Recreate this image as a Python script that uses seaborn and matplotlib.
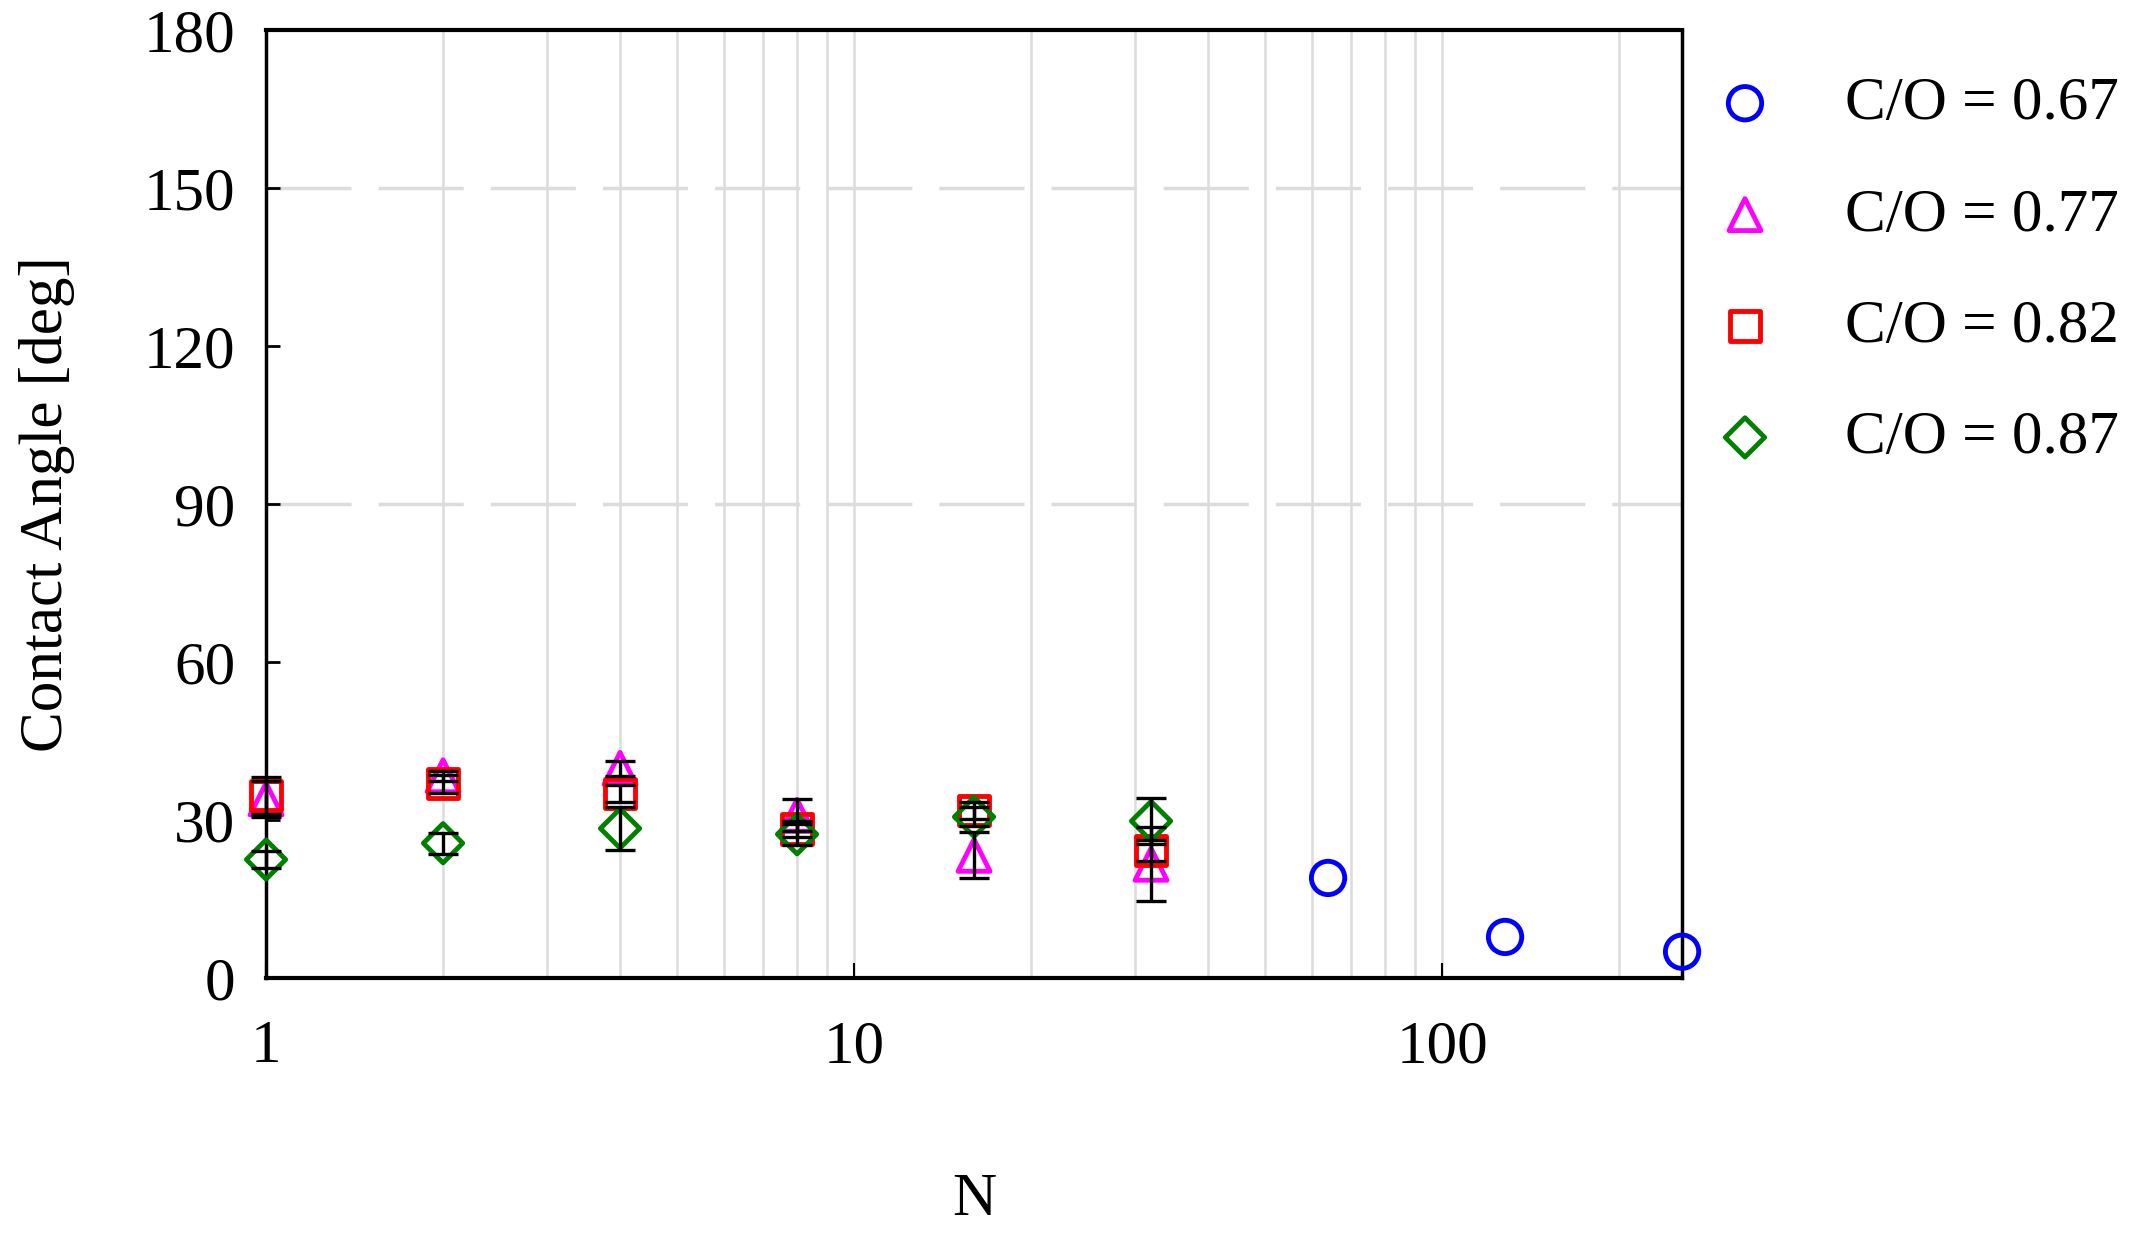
import numpy as np
import pandas as pd
import seaborn as sns
import matplotlib
matplotlib.use("Agg")
import matplotlib.pyplot as plt
from matplotlib.ticker import LogLocator, NullFormatter, FixedLocator, FixedFormatter

# ---- data ---------------------------------------------------------------
labels = ["C/O = 0.67", "C/O = 0.77", "C/O = 0.82", "C/O = 0.87"]

n_067 = [64, 128, 256]
ca_067 = [19.0, 7.8, 5.0]

n_077 = [1, 2, 4, 8, 16, 32]
ca_077 = [34.0, 38.4, 39.8, 30.9, 23.3, 21.6]
err_077 = [3.5, 1.0, 1.5, 3.0, 4.4, 7.0]

n_082 = [1, 2, 4, 8, 16, 32]
ca_082 = [34.7, 36.9, 35.1, 28.3, 31.8, 24.2]
err_082 = [3.5, 1.7, 1.6, 1.5, 1.7, 2.0]

n_087 = [1, 2, 4, 8, 16, 32]
ca_087 = [22.5, 25.6, 28.4, 27.3, 30.6, 29.8]
err_087 = [1.6, 2.0, 4.0, 2.0, 1.8, 4.4]

yticks = [0, 30, 60, 90, 120, 150, 180]
xticks = [1, 10, 100]
xticklabels = ["1", "10", "100"]
hgrid = [90, 150]

# ---- style ---------------------------------------------------------------
sns.set_style("white")
plt.rcParams["font.family"] = ["Liberation Serif", "DejaVu Serif"]
plt.rcParams["font.size"] = 44
plt.rcParams["text.color"] = "black"
plt.rcParams["axes.labelcolor"] = "black"
plt.rcParams["xtick.color"] = "black"
plt.rcParams["ytick.color"] = "black"

fs = 44
fig = plt.figure(figsize=(21.3, 12.44), dpi=100)
ax = fig.add_axes([0.1249, 0.2138, 0.7897 - 0.1249, 0.9759 - 0.2138])

series = [
    (labels[0], n_067, ca_067, None, "o", "#0000ff", 24),
    (labels[1], n_077, ca_077, err_077, "^", "#ff00ff", 23),
    (labels[2], n_082, ca_082, err_082, "s", "#ff0000", 21),
    (labels[3], n_087, ca_087, err_087, "D", "#008000", 20),
]

frames = []
for lab, n, ca, err, mk, col, ms in series:
    frames.append(pd.DataFrame({"N": n, "angle": ca, "series": lab}))
df = pd.concat(frames, ignore_index=True)

for lab, n, ca, err, mk, col, ms in series:
    sub = df[df["series"] == lab]
    sns.scatterplot(data=sub, x="N", y="angle", ax=ax, marker=mk, s=ms ** 2,
                    color=col, facecolor="none", edgecolor=col, linewidth=3.5,
                    label=lab, clip_on=False, zorder=3)

# error bars drawn on top of the markers
for lab, n, ca, err, mk, col, ms in series:
    if err is None:
        continue
    ax.errorbar(n, ca, yerr=err, fmt="none", ecolor="black", elinewidth=2.4,
                capsize=11, capthick=2.4, clip_on=False, zorder=4)

ax.set_xscale("log")
ax.set_xlim(1, 256)
ax.set_ylim(0, 180)

# grid: light vertical lines at every decade step, dashed horizontals
ax.xaxis.set_major_locator(FixedLocator(xticks))
ax.xaxis.set_major_formatter(FixedFormatter(xticklabels))
ax.xaxis.set_minor_locator(LogLocator(base=10, subs=np.arange(2, 10)))
ax.xaxis.set_minor_formatter(NullFormatter())
ax.grid(axis="x", which="both", color="#dcdcdc", linewidth=1.8, zorder=0)
ax.set_axisbelow(True)
for h in hgrid:
    ax.axhline(h, color="#dcdcdc", linewidth=2.5, dashes=(24.5, 7.8), zorder=0.5)

ax.set_yticks(yticks)
ax.tick_params(axis="x", which="major", direction="in", length=11, width=1.5,
               pad=30, labelsize=fs, top=False, bottom=True)
ax.tick_params(axis="x", which="minor", length=0)
ax.tick_params(axis="y", direction="in", length=10, width=2, pad=22,
               labelsize=fs, left=True)

for side in ["top", "bottom", "left", "right"]:
    ax.spines[side].set_visible(True)
    ax.spines[side].set_color("black")
    ax.spines[side].set_linewidth(2.5)
ax.spines["top"].set_linewidth(3)
ax.spines["bottom"].set_linewidth(3)

ax.set_xlabel("N", fontsize=fs)
ax.set_ylabel("Contact Angle [deg]", fontsize=fs)
ax.xaxis.set_label_coords(0.5, -0.205)
ax.yaxis.set_label_coords(-0.135, 0.5)

ax.legend(loc="upper left", bbox_to_anchor=(0.8049, 0.9385),
          bbox_transform=fig.transFigure, frameon=False, fontsize=fs,
          handlelength=1.0, handletextpad=1.14, labelspacing=0.91,
          borderpad=0, borderaxespad=0, scatterpoints=1)

fig.savefig("out.png", dpi=100)
